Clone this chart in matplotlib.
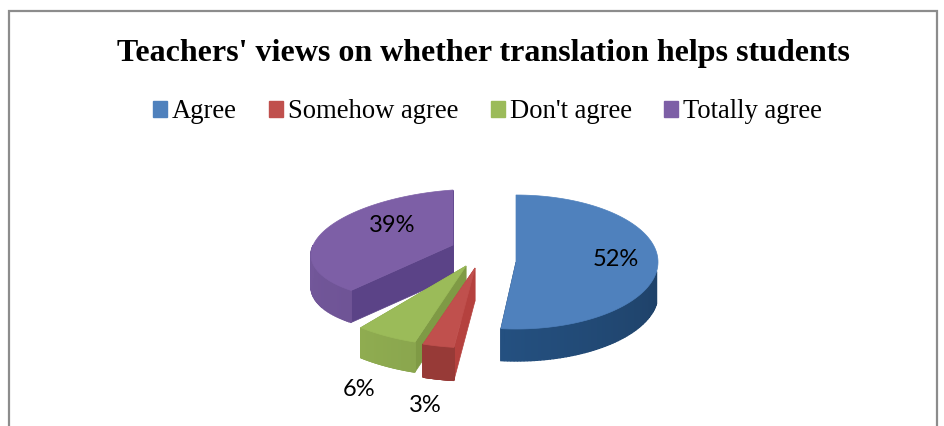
import numpy as np
import matplotlib
matplotlib.use("Agg")
import matplotlib.pyplot as plt
from matplotlib.colors import to_rgb
from matplotlib.patches import Patch, Polygon

TITLE = "Teachers' views on whether translation helps students"
categories = ["Agree", "Somehow agree", "Don't agree", "Totally agree"]
values = [52, 3, 6, 39]

# Appearance of each slice: top face, cut face, rim at its start and end angle
top_colors = ["#4f81bd", "#c0504d", "#9bbb59", "#7d5fa6"]
cut_colors = ["#1f3d63", "#b5413e", "#7f9a45", "#5b4387"]
rim_colors = [("#1a3452", "#245080"), ("#973a37", "#973a37"),
              ("#8aa64e", "#8fac50"), ("#6f5496", "#7a5da2")]

# Exploded layout of each slice in canvas pixels: apex x, apex y, radii, depth,
# plus the view distortion of its ellipse (angular warp in radians, vertical shear)
apex = [(516, 262), (475, 268), (466, 266), (453, 245)]
radii = [(142, 67), (168, 80), (165, 80), (142, 55)]
depths = [32, 33, 30, 32]
warps = [0.15, 0, 0, -0.17]
shears = [0, 0, 0, -0.07]
label_pos = [(616, 259), (425, 406), (359, 390), (392, 225)]

fig = plt.figure(figsize=(9.45, 4.26), dpi=100)
ax = fig.add_axes([0, 0, 1, 1])
ax.set_xlim(0, 945)
ax.set_ylim(426, 0)
ax.axis("off")

# Chart frame; its lower edge runs off the canvas
ax.add_patch(Polygon([(9, 440), (9, 11), (937, 11), (937, 440)], closed=False,
                     fill=False, edgecolor="#8c8c8c", linewidth=1.6))


def rim_point(a, cx, cy, rx, ry, warp, shear):
    b = a + warp * np.sin(a)
    dx = rx * np.sin(b)
    return cx + dx, cy - ry * np.cos(b) + shear * dx


def draw_slice(start, stop, center, radius, depth, warp, shear, top, cut, rim):
    cx, cy = center
    rx, ry = radius
    angles = np.linspace(start, stop, 120)
    x, y = rim_point(angles, cx, cy, rx, ry, warp, shear)

    # Cut faces come first so the top face hides those turned away from the viewer
    for a in (start, stop):
        px, py = rim_point(a, cx, cy, rx, ry, warp, shear)
        ax.add_patch(Polygon([(cx, cy), (px, py), (px, py + depth), (cx, cy + depth)],
                             facecolor=cut, edgecolor=cut, linewidth=0.5, zorder=2))

    # Outer wall, shaded step by step along the visible front arc
    c0, c1 = np.array(to_rgb(rim[0])), np.array(to_rgb(rim[1]))
    for i in range(len(angles) - 1):
        mid = 0.5 * (angles[i] + angles[i + 1])
        if np.cos(mid) > 0:
            continue
        t = i / (len(angles) - 2)
        col = tuple(c0 + (c1 - c0) * t)
        ax.add_patch(Polygon([(x[i], y[i]), (x[i + 1], y[i + 1]),
                              (x[i + 1], y[i + 1] + depth), (x[i], y[i] + depth)],
                             facecolor=col, edgecolor=col, linewidth=1.0, zorder=3))

    ax.add_patch(Polygon(np.r_[[[cx, cy]], np.c_[x, y]], facecolor=top,
                         edgecolor=top, linewidth=0.5, zorder=4))


# Slices run clockwise from twelve o'clock; the large rear ones are painted first
edges = np.r_[0, np.cumsum(values)] / sum(values) * 2 * np.pi
for i in [3, 0, 2, 1]:
    draw_slice(edges[i], edges[i + 1], apex[i], radii[i], depths[i], warps[i], shears[i],
               top_colors[i], cut_colors[i], rim_colors[i])

for v, (lx, ly) in zip(values, label_pos):
    ax.text(lx, ly, f"{v}%", family="Lato", fontsize=17, color="black",
            ha="center", va="center", zorder=6)

ax.text(483, 53, TITLE, family="Liberation Serif", fontweight="bold", fontsize=23,
        color="black", ha="center", va="center")

handles = [Patch(facecolor=c, edgecolor=c, label=n) for c, n in zip(top_colors, categories)]
ax.legend(handles=handles, ncols=4, loc="center", bbox_to_anchor=(487.5, 112),
          bbox_transform=ax.transData, frameon=False, borderpad=0, borderaxespad=0,
          prop={"family": "Liberation Serif", "size": 19.2}, handlelength=0.53,
          handleheight=0.53, handletextpad=0.19, columnspacing=1.21, labelcolor="black")

fig.savefig("out.png", dpi=100, facecolor="white")
